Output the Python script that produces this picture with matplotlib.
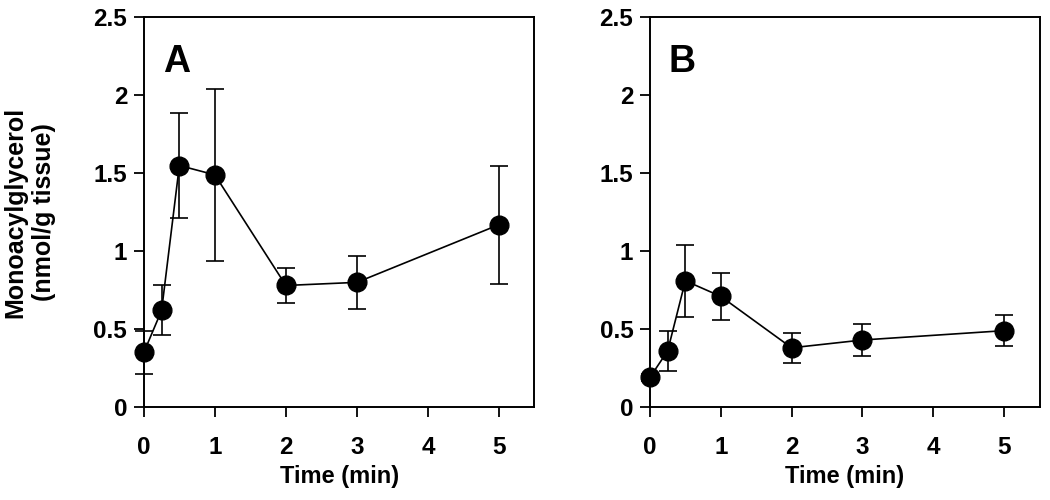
import matplotlib
matplotlib.use("Agg")
import matplotlib.pyplot as plt

plt.rcParams['font.family'] = ['Liberation Sans', 'DejaVu Sans']
plt.rcParams['font.weight'] = 'bold'

time_min = [0, 0.25, 0.5, 1, 2, 3, 5]

mag_A = [0.35, 0.62, 1.55, 1.49, 0.78, 0.80, 1.17]
err_A = [0.14, 0.16, 0.34, 0.55, 0.11, 0.17, 0.38]

mag_B = [0.19, 0.36, 0.81, 0.71, 0.38, 0.43, 0.49]
err_B = [0.02, 0.13, 0.23, 0.15, 0.095, 0.10, 0.10]

panel_labels = ['A', 'B']
xticks = [0, 1, 2, 3, 4, 5]
yticks = [0, 0.5, 1, 1.5, 2, 2.5]
ytick_labels = ['0', '0.5', '1', '1.5', '2', '2.5']

fig = plt.figure(figsize=(10.5, 5), dpi=100)
ax_A = fig.add_axes([0.137, 0.186, 0.372, 0.779])
ax_B = fig.add_axes([0.619, 0.186, 0.371, 0.779])

for ax, vals, errs, lab in [(ax_A, mag_A, err_A, panel_labels[0]),
                            (ax_B, mag_B, err_B, panel_labels[1])]:
    ax.errorbar(time_min, vals, yerr=errs, fmt='-o', color='black',
                markersize=13.5, linewidth=1.2, elinewidth=1.2,
                capsize=6.5, capthick=1.2, clip_on=False, zorder=3)
    ax.set_xlim(0, 5.5)
    ax.set_ylim(0, 2.5)
    ax.set_xticks(xticks)
    ax.set_xticklabels([str(t) for t in xticks])
    ax.set_yticks(yticks)
    ax.set_yticklabels(ytick_labels)
    ax.tick_params(axis='both', direction='out', length=7, width=1.3,
                   labelsize=17.5)
    ax.tick_params(axis='x', pad=14)
    ax.tick_params(axis='y', pad=5)
    for lbl in ax.get_xticklabels() + ax.get_yticklabels():
        lbl.set_fontweight('bold')
    for sp in ax.spines.values():
        sp.set_linewidth(1.4)
    ax.set_xlabel('Time (min)', fontsize=17, fontweight='bold', labelpad=4)
    ax.text(0.048, 0.859, lab, transform=ax.transAxes, fontsize=27,
            fontweight='bold', ha='left', va='baseline')

fig.text(30 / 1050, 0.576, 'Monoacylglycerol\n(nmol/g tissue)', rotation=90,
         ha='center', va='center', multialignment='center',
         fontsize=18, fontweight='bold', linespacing=1.25)

fig.savefig('out.png', dpi=100)
